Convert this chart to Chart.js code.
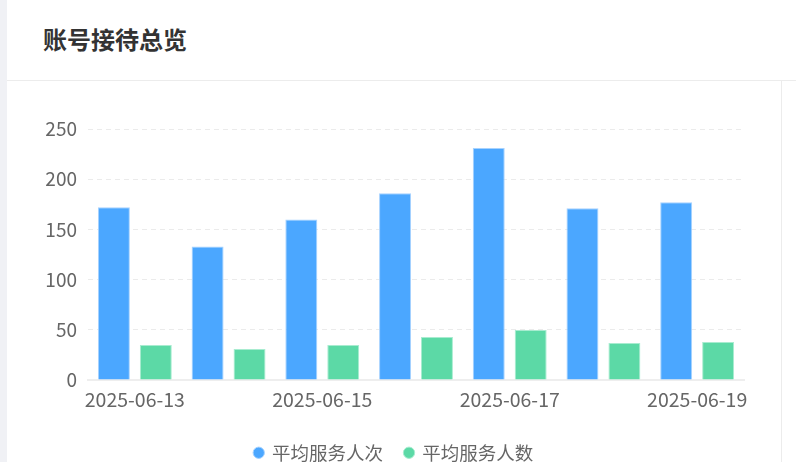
<!DOCTYPE html>
<html>
<head>
<meta charset="utf-8">
<script src="https://cdn.jsdelivr.net/npm/chart.js@4.4.0/dist/chart.umd.min.js"></script>
<style>
  html, body { margin: 0; padding: 0; background: #fff; width: 796px; height: 462px; overflow: hidden; font-family: "Noto Sans CJK SC", "Noto Sans", sans-serif; }
  #strip { position: absolute; left: 0; top: 0; width: 7px; height: 462px; background: #f0f1f5; }
  #title { position: absolute; left: 43px; top: 20px; font-size: 24px; font-weight: bold; color: #333; line-height: 38px; }
  #hline { position: absolute; left: 7px; top: 80px; width: 789px; height: 1px; background: #ececec; }
  #vline { position: absolute; left: 781px; top: 81px; width: 1px; height: 381px; background: #ececec; }
  #wrap { position: absolute; left: 7px; top: 81px; width: 774px; height: 391px; }
</style>
</head>
<body>
<div id="strip"></div>
<div id="title">账号接待总览</div>
<div id="hline"></div>
<div id="vline"></div>
<div id="wrap"><canvas id="c"></canvas></div>
<script>
const categories = ["2025-06-13","2025-06-14","2025-06-15","2025-06-16","2025-06-17","2025-06-18","2025-06-19"];
const seriesNames = ["平均服务人次","平均服务人数"];
const avgServiceTimes = [172, 133, 160, 186, 231, 171, 177];
const avgServicePeople = [35, 31, 35, 43, 50, 37, 38];
const yTicks = [0, 50, 100, 150, 200, 250];

const font = '"Noto Sans CJK SC", "Noto Sans", sans-serif';
new Chart(document.getElementById('c'), {
  type: 'bar',
  data: {
    labels: categories,
    datasets: [
      { label: seriesNames[0], data: avgServiceTimes, backgroundColor: '#4ba7ff', borderColor: '#a6d2ff', borderWidth: 1, borderSkipped: 'bottom', categoryPercentage: 0.895, barPercentage: 0.762 },
      { label: seriesNames[1], data: avgServicePeople, backgroundColor: '#5cd9a6', borderColor: '#a8ecd0', borderWidth: 1, borderSkipped: 'bottom', categoryPercentage: 0.895, barPercentage: 0.762 }
    ]
  },
  options: {
    responsive: true,
    maintainAspectRatio: false,
    animation: false,
    layout: { padding: { left: 37, right: 37, top: 48, bottom: 0 } },
    plugins: {
      tooltip: { enabled: false },
      legend: {
        position: 'bottom',
        labels: { usePointStyle: true, pointStyle: 'circle', boxWidth: 8, boxHeight: 8, padding: 22, color: '#666', font: { family: font, size: 18.5 } }
      }
    },
    scales: {
      x: {
        grid: { display: false },
        border: { color: '#eeeeee', width: 2 },
        afterFit: function(scale) { scale.height += 10; },
        ticks: {
          autoSkip: false, maxRotation: 0, color: '#666', padding: 0,
          font: { family: font, size: 19.5 },
          callback: function(v, i) { return i % 2 === 0 ? categories[i] : ''; }
        }
      },
      y: {
        min: yTicks[0], max: yTicks[yTicks.length - 1],
        afterBuildTicks: function(axis) { axis.ticks = yTicks.map(v => ({ value: v })); },
        afterFit: function(scale) { scale.width = 44; },
        grid: { color: '#ebebeb', drawTicks: false, lineWidth: 1 },
        border: { display: false, dash: [5, 4] },
        ticks: { color: '#666', padding: 11, font: { family: font, size: 19 } }
      }
    }
  }
});
</script>
</body>
</html>
